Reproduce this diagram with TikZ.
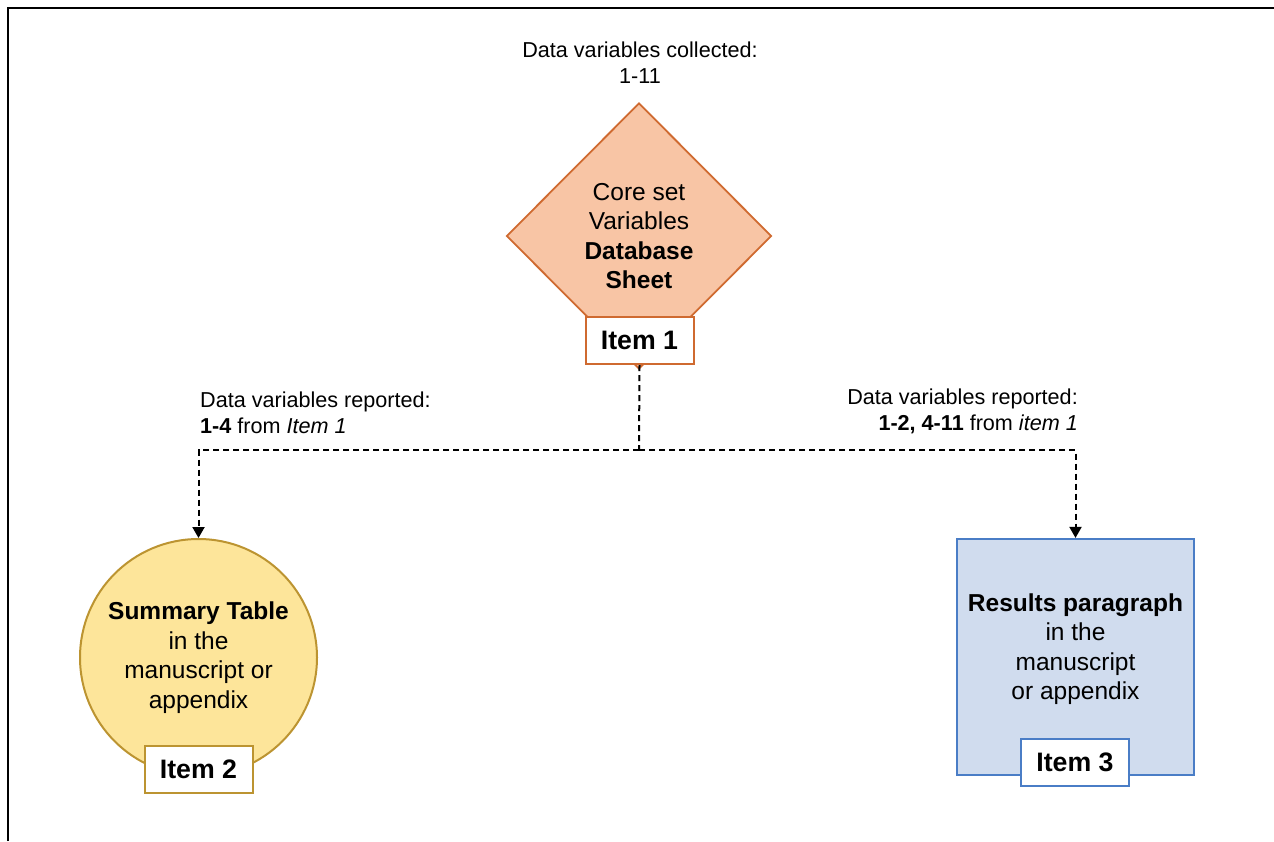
\documentclass[tikz,border=0pt]{standalone}
\usepackage{fontspec}
\setmainfont{Liberation Sans}
\usetikzlibrary{shapes.geometric,arrows.meta}

\definecolor{coreFill}{HTML}{F8C5A5}
\definecolor{coreLine}{HTML}{CF6A30}
\definecolor{tableFill}{HTML}{FDE59A}
\definecolor{tableLine}{HTML}{BC9431}
\definecolor{resultFill}{HTML}{D0DCEE}
\definecolor{resultLine}{HTML}{4A7DC6}

\tikzset{
  itembox/.style={draw=#1, fill=white, line width=2pt, minimum width=108pt,
    minimum height=47pt, inner sep=0pt, font=\fontsize{26.7}{30}\selectfont\bfseries},
  note/.style={font=\fontsize{21.6}{26}\selectfont, inner sep=0pt},
  shapetext/.style={align=center, font=\fontsize{24.5}{29.5}\selectfont},
  dashline/.style={dash pattern=on 6pt off 4pt, line width=2pt},
  flow/.style={dashline, -{Triangle[width=12pt,length=11pt]}},
}

\begin{document}
\begin{tikzpicture}[x=1pt, y=-1pt]
  \useasboundingbox (0,0) rectangle (1274,841);

  % Frame (left and top edge only).
  \draw[line width=2.2pt] (8,841) -- (8,8) -- (1274,8);

  % Collected variables.
  \node[note, align=center] (collected) at (640,63) {Data variables collected:\\1-11};

  % Core set diamond.
  \node[diamond, draw=coreLine, fill=coreFill, line width=1.8pt, minimum width=265pt,
    minimum height=266pt, inner sep=0pt, shapetext] (core) at (639,236)
    {Core set\\Variables\\\textbf{Database}\\\textbf{Sheet}};
  \node[itembox=coreLine] (item1) at (639.5,340.5) {Item 1};

  % Summary table circle.
  \node[circle, draw=tableLine, fill=tableFill, line width=2pt, minimum size=237pt,
    inner sep=0pt, shapetext] (summary) at (198.5,657.5)
    {\textbf{Summary Table}\\in the\\manuscript or\\appendix};
  \node[itembox=tableLine] (item2) at (198.5,769.5) {Item 2};

  % Results paragraph box.
  \node[draw=resultLine, fill=resultFill, line width=2.2pt, minimum width=237pt,
    minimum height=236pt] (results) at (1075.5,657) {};
  \node[shapetext] (resultsText) at (1075.5,649)
    {\textbf{Results paragraph}\\in the\\manuscript\\or appendix};
  \node[itembox=resultLine] (item3) at (1075,762.5) {Item 3};

  % Reported variables.
  \node[note, align=left, anchor=west] (reportLeft) at (200,413)
    {Data variables reported:\\\textbf{1-4} from \textit{Item 1}};
  \node[note, align=right, anchor=east] (reportRight) at (1078,411)
    {Data variables reported:\\\textbf{1-2, 4-11} from \textit{item 1}};

  % Dashed connectors.
  \coordinate (split) at (639,450);
  \draw[dashline] (item1.south) -- (split);
  \draw[flow] (split) -| (summary.north);
  \draw[flow] (split) -| (results.north);
\end{tikzpicture}
\end{document}
